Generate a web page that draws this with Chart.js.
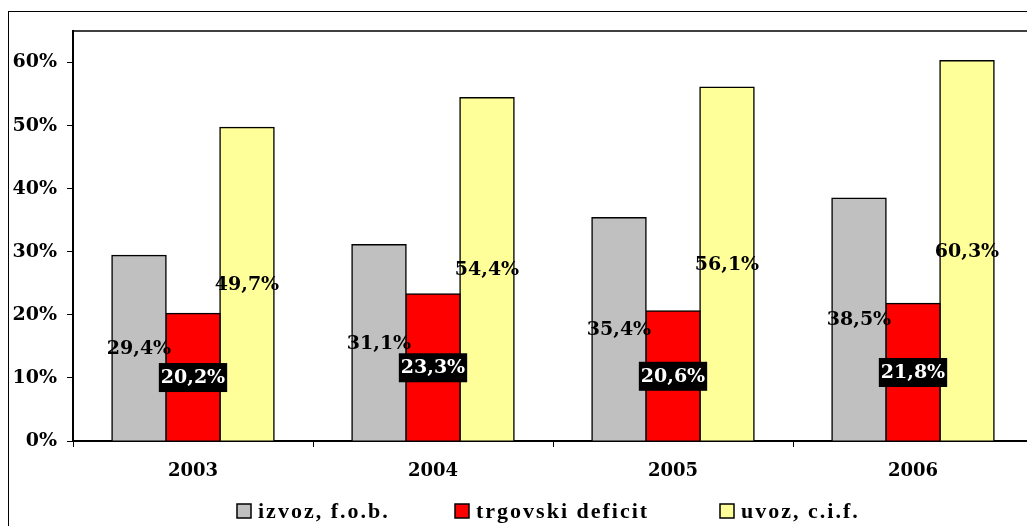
<!DOCTYPE html>
<html>
<head>
<meta charset="utf-8">
<script src="https://cdn.jsdelivr.net/npm/chart.js@4.4.1/dist/chart.umd.min.js"></script>
<style>
  html, body { margin: 0; padding: 0; background: #fff; overflow: hidden; width: 1027px; height: 526px; }
  #frame { position: absolute; left: 8px; top: 11px; width: 1040px; height: 540px; border: 1px solid #000; box-sizing: border-box; }
  #wrap { position: absolute; left: 0; top: 0; width: 1040px; height: 526px; }
</style>
</head>
<body>
<div id="frame"></div>
<div id="wrap"><canvas id="c" width="1040" height="526"></canvas></div>
<script>
const categories = ['2003', '2004', '2005', '2006'];
const izvoz = [29.4, 31.1, 35.4, 38.5];
const deficit = [20.2, 23.3, 20.6, 21.8];
const uvoz = [49.7, 54.4, 56.1, 60.3];
const seriesNames = ['izvoz, f.o.b.', 'trgovski deficit', 'uvoz, c.i.f.'];
const seriesColors = ['#C0C0C0', '#FF0000', '#FFFF99'];
const yTickValues = [0, 10, 20, 30, 40, 50, 60];

const fmt = v => v.toFixed(1).replace('.', ',') + '%';

const labelPlugin = {
  id: 'valueLabels',
  afterDatasetsDraw(chart) {
    const ctx = chart.ctx;
    ctx.save();
    ctx.font = 'bold 19px "DejaVu Serif"';
    ctx.textAlign = 'center';
    ctx.textBaseline = 'middle';
    chart.data.datasets.forEach((ds, di) => {
      const meta = chart.getDatasetMeta(di);
      meta.data.forEach((bar, i) => {
        const txt = fmt(ds.data[i]);
        const cx = bar.x;
        const cy = (bar.y + bar.base) / 2;
        if (di === 1) {
          const w = ctx.measureText(txt).width + 4;
          ctx.fillStyle = '#000';
          ctx.fillRect(cx - w / 2, cy - 14, w, 29);
          ctx.fillStyle = '#fff';
        } else {
          ctx.fillStyle = '#000';
        }
        ctx.fillText(txt, cx, cy + 1);
      });
    });
    ctx.restore();
  }
};

const framePlugin = {
  id: 'plotFrame',
  afterDraw(chart) {
    const a = chart.chartArea;
    const ctx = chart.ctx;
    ctx.save();
    ctx.strokeStyle = '#000';
    ctx.lineWidth = 1.5;
    ctx.beginPath();
    ctx.moveTo(a.left, a.top);
    ctx.lineTo(a.right + 10, a.top);
    ctx.stroke();
    ctx.restore();
  }
};

const legendPlugin = {
  id: 'bottomLegend',
  afterDraw(chart) {
    const ctx = chart.ctx;
    const boxX = [237, 455, 720];
    const boxY = 504;
    ctx.save();
    ctx.font = 'bold 22px "Liberation Serif"';
    ctx.letterSpacing = '2px';
    ctx.textBaseline = 'middle';
    ctx.textAlign = 'left';
    chart.data.datasets.forEach((ds, i) => {
      ctx.fillStyle = ds.backgroundColor;
      ctx.fillRect(boxX[i], boxY, 14, 14);
      ctx.strokeStyle = '#000';
      ctx.lineWidth = 1.5;
      ctx.strokeRect(boxX[i], boxY, 14, 14);
      ctx.fillStyle = '#000';
      ctx.fillText(ds.label, boxX[i] + 21, boxY + 8);
    });
    ctx.restore();
  }
};

new Chart(document.getElementById('c'), {
  type: 'bar',
  data: {
    labels: categories,
    datasets: [
      { label: seriesNames[0], data: izvoz, backgroundColor: seriesColors[0] },
      { label: seriesNames[1], data: deficit, backgroundColor: seriesColors[1] },
      { label: seriesNames[2], data: uvoz, backgroundColor: seriesColors[2] }
    ]
  },
  options: {
    responsive: false,
    animation: false,
    devicePixelRatio: 1,
    layout: { padding: { top: 31, left: 0, right: 7, bottom: 0 } },
    datasets: { bar: { categoryPercentage: 0.675, barPercentage: 1.0, borderColor: '#000', borderWidth: 1.5, inflateAmount: 0.75 } },
    plugins: {
      tooltip: { enabled: false },
      legend: { display: false }
    },
    scales: {
      x: {
        afterFit(s) { s.height = 85; },
        grid: { display: true, offset: true, drawOnChartArea: false, drawTicks: true, tickLength: 6, color: '#000', lineWidth: 1 },
        border: { display: true, color: '#000', width: 2 },
        ticks: { color: '#000', font: { family: '"DejaVu Serif"', size: 18, weight: 'bold' }, padding: 14 }
      },
      y: {
        min: 0,
        max: 65,
        afterFit(s) { s.width = 73; },
        afterBuildTicks(s) { s.ticks = yTickValues.map(v => ({ value: v })); },
        grid: { display: true, drawOnChartArea: false, drawTicks: true, tickLength: 6, color: '#000', lineWidth: 1 },
        border: { display: true, color: '#000', width: 2 },
        ticks: { color: '#000', font: { family: '"DejaVu Serif"', size: 19, weight: 'bold' }, padding: 10, callback: v => v + '%' }
      }
    }
  },
  plugins: [labelPlugin, framePlugin, legendPlugin]
});
</script>
</body>
</html>
